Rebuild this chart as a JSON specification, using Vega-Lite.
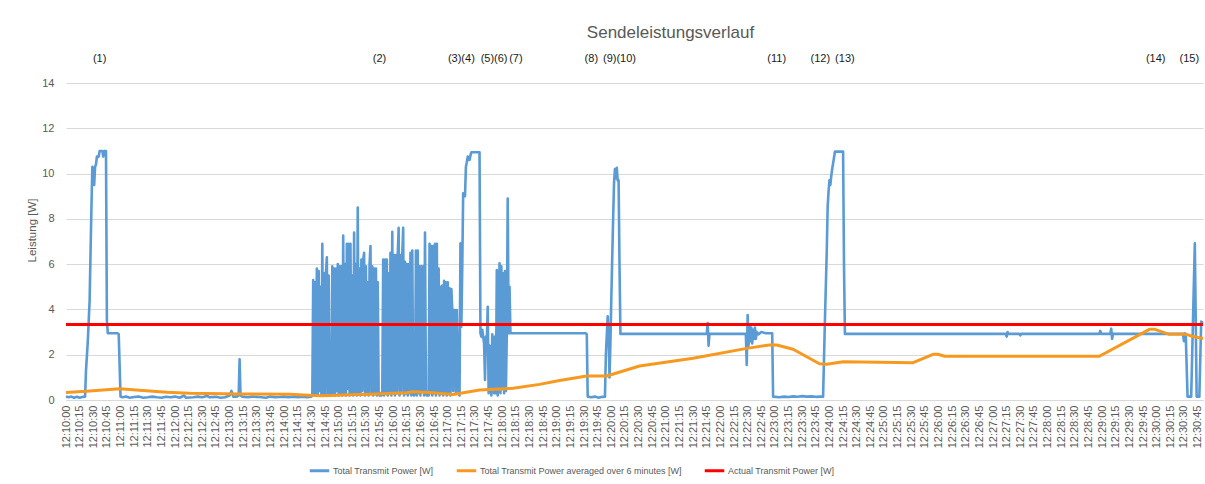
{
  "$schema": "https://vega.github.io/schema/vega-lite/v6.json",
  "width": 1137,
  "height": 317,
  "autosize": {"type": "none"},
  "padding": {"left": 66, "top": 83, "right": 2, "bottom": 84},
  "background": "white",
  "title": {"text": "Sendeleistungsverlauf", "font": "Liberation Sans", "fontSize": 17, "fontWeight": "normal", "color": "#595959", "anchor": "middle", "frame": "group", "dx": 36, "offset": 11},
  "datasets": {
    "blue": [
      {"s":0,"v":0.15},{"s":3,"v":0.12},{"s":6,"v":0.15},{"s":9,"v":0.1},{"s":12,"v":0.14},{"s":15,"v":0.1},{"s":18,"v":0.13},{"s":21,"v":0.15},{"s":22,"v":1.3},{"s":24,"v":2.6},{"s":26,"v":4.4},{"s":27,"v":6.5},{"s":28,"v":8.5},{"s":29,"v":10.3},{"s":30,"v":10.0},{"s":31,"v":9.5},{"s":32,"v":10.3},{"s":33,"v":10.4},{"s":34,"v":10.75},{"s":36,"v":10.75},{"s":37,"v":11},{"s":40,"v":11},{"s":41,"v":10.75},{"s":42,"v":11},{"s":44,"v":11},{"s":45,"v":3.5},{"s":46,"v":2.95},{"s":57,"v":2.95},{"s":58,"v":2.9},{"s":60,"v":0.15},
      {"s":62,"v":0.12},{"s":66,"v":0.15},{"s":70,"v":0.1},{"s":75,"v":0.13},{"s":80,"v":0.15},{"s":85,"v":0.1},{"s":90,"v":0.12},{"s":95,"v":0.15},{"s":100,"v":0.12},{"s":105,"v":0.1},{"s":110,"v":0.14},{"s":115,"v":0.12},{"s":120,"v":0.15},{"s":125,"v":0.1},{"s":130,"v":0.2},{"s":132,"v":0.1},{"s":140,"v":0.12},{"s":145,"v":0.15},{"s":150,"v":0.12},{"s":155,"v":0.18},{"s":158,"v":0.12},{"s":165,"v":0.14},{"s":170,"v":0.1},{"s":175,"v":0.12},{"s":180,"v":0.2},{"s":182,"v":0.4},{"s":184,"v":0.15},{"s":188,"v":0.15},{"s":190,"v":0.2},{"s":191,"v":1.8},{"s":192,"v":0.2},{"s":194,"v":0.15},{"s":200,"v":0.12},{"s":205,"v":0.15},{"s":210,"v":0.14},{"s":215,"v":0.12},{"s":220,"v":0.1},{"s":225,"v":0.15},{"s":230,"v":0.12},{"s":235,"v":0.13},{"s":240,"v":0.15},{"s":245,"v":0.12},{"s":250,"v":0.14},{"s":255,"v":0.12},{"s":260,"v":0.15},{"s":265,"v":0.12},{"s":270,"v":0.15},{"s":271,"v":0.2},
      {"s":272,"v":5.3},{"s":273,"v":0.2},{"s":274,"v":5.2},{"s":275,"v":0.3},{"s":276,"v":5.8},{"s":277,"v":0.2},{"s":278,"v":5.7},{"s":279,"v":0.4},{"s":280,"v":5.0},{"s":281,"v":0.2},{"s":282,"v":6.9},{"s":283,"v":0.3},{"s":284,"v":5.6},{"s":285,"v":0.2},{"s":286,"v":5.6},{"s":287,"v":6.3},{"s":288,"v":0.2},{"s":289,"v":5.5},{"s":290,"v":0.2},{"s":291,"v":0.3},{"s":292,"v":0.2},{"s":293,"v":5.9},{"s":294,"v":0.3},{"s":295,"v":5.8},{"s":296,"v":0.2},{"s":297,"v":5.8},{"s":298,"v":0.4},{"s":299,"v":6.0},{"s":300,"v":0.2},{"s":301,"v":5.9},{"s":302,"v":0.3},{"s":303,"v":5.9},{"s":304,"v":0.2},{"s":305,"v":7.26},{"s":306,"v":0.3},{"s":307,"v":6.0},{"s":308,"v":0.2},{"s":309,"v":6.9},{"s":310,"v":0.5},{"s":311,"v":6.9},{"s":312,"v":0.2},{"s":313,"v":6.9},{"s":314,"v":0.3},{"s":315,"v":5.5},{"s":316,"v":0.2},{"s":317,"v":7.4},{"s":318,"v":0.3},{"s":319,"v":6.0},{"s":320,"v":0.2},{"s":321,"v":8.5},{"s":322,"v":0.3},{"s":323,"v":5.8},{"s":324,"v":0.2},{"s":325,"v":6.2},{"s":326,"v":0.4},{"s":327,"v":6.2},{"s":328,"v":6.5},{"s":329,"v":0.2},{"s":330,"v":5.9},{"s":331,"v":0.3},{"s":332,"v":5.2},{"s":333,"v":0.2},{"s":334,"v":6.0},{"s":335,"v":6.8},{"s":336,"v":0.3},{"s":337,"v":5.9},{"s":338,"v":0.2},{"s":339,"v":5.8},{"s":340,"v":0.3},{"s":341,"v":5.8},{"s":342,"v":0.2},{"s":343,"v":5.2},{"s":344,"v":0.3},{"s":345,"v":0.2},{"s":346,"v":0.3},{"s":347,"v":0.2},{"s":348,"v":0.3},{"s":349,"v":6.2},{"s":350,"v":0.2},{"s":351,"v":6.2},{"s":352,"v":0.3},{"s":353,"v":6.2},{"s":354,"v":0.2},{"s":355,"v":5.6},{"s":356,"v":0.4},{"s":357,"v":6.5},{"s":358,"v":0.2},{"s":359,"v":7.43},{"s":360,"v":0.3},{"s":361,"v":6.4},{"s":362,"v":0.2},{"s":363,"v":6.4},{"s":364,"v":0.3},{"s":365,"v":6.4},{"s":366,"v":7.6},{"s":367,"v":0.2},{"s":368,"v":6.4},{"s":369,"v":0.3},{"s":370,"v":6.4},{"s":371,"v":7.6},{"s":372,"v":0.2},{"s":373,"v":6.1},{"s":374,"v":0.3},{"s":375,"v":6.0},{"s":376,"v":0.2},{"s":377,"v":6.0},{"s":378,"v":0.3},{"s":379,"v":6.5},{"s":380,"v":0.2},{"s":381,"v":6.6},{"s":382,"v":0.3},{"s":383,"v":0.2},{"s":384,"v":0.3},{"s":385,"v":6.6},{"s":386,"v":0.2},{"s":387,"v":6.6},{"s":388,"v":0.3},{"s":389,"v":5.9},{"s":390,"v":0.2},{"s":391,"v":5.9},{"s":392,"v":0.4},{"s":393,"v":5.9},{"s":394,"v":0.2},{"s":395,"v":7.4},{"s":396,"v":0.3},{"s":397,"v":0.2},{"s":398,"v":0.3},{"s":399,"v":0.2},{"s":400,"v":6.9},{"s":401,"v":0.3},{"s":402,"v":6.8},{"s":403,"v":0.2},{"s":404,"v":6.8},{"s":405,"v":0.3},{"s":406,"v":6.9},{"s":407,"v":0.2},{"s":408,"v":6.9},{"s":409,"v":0.4},{"s":410,"v":5.8},{"s":411,"v":0.2},{"s":412,"v":5.0},{"s":413,"v":0.3},{"s":414,"v":5.05},{"s":415,"v":0.2},{"s":416,"v":5.26},{"s":417,"v":0.3},{"s":418,"v":5.2},{"s":419,"v":0.2},{"s":420,"v":5.2},{"s":421,"v":0.3},{"s":422,"v":4.93},{"s":423,"v":0.2},{"s":424,"v":4.9},{"s":425,"v":3.97},{"s":426,"v":0.4},{"s":427,"v":3.97},{"s":428,"v":3.97},{"s":429,"v":0.3},{"s":430,"v":3.97},{"s":431,"v":2.0},{"s":432,"v":0.3},{"s":433,"v":0.2},{"s":434,"v":6.92},{"s":435,"v":3.24},{"s":436,"v":5.9},{"s":437,"v":9.13},{"s":438,"v":9.0},{"s":439,"v":9.0},{"s":440,"v":10.3},{"s":441,"v":10.5},{"s":442,"v":10.75},{"s":443,"v":10.6},{"s":444,"v":10.6},{"s":445,"v":10.8},{"s":446,"v":10.94},{"s":455,"v":10.94},
      {"s":456,"v":2.95},{"s":457,"v":2.8},{"s":458,"v":3.1},{"s":459,"v":2.8},{"s":460,"v":2.5},{"s":461,"v":0.88},{"s":462,"v":2.8},{"s":463,"v":2.6},{"s":464,"v":4.12},{"s":465,"v":0.3},{"s":466,"v":2.4},{"s":467,"v":1.9},{"s":468,"v":0.2},{"s":469,"v":2.9},{"s":470,"v":2.3},{"s":471,"v":0.3},{"s":472,"v":2.8},{"s":473,"v":0.3},{"s":474,"v":5.74},{"s":475,"v":0.2},{"s":476,"v":2.9},{"s":477,"v":6.04},{"s":478,"v":0.3},{"s":479,"v":5.9},{"s":480,"v":0.5},{"s":481,"v":5.6},{"s":482,"v":0.3},{"s":483,"v":5.7},{"s":484,"v":0.4},{"s":485,"v":2.9},{"s":486,"v":8.9},{"s":487,"v":2.95},{"s":488,"v":5.0},{"s":489,"v":2.95},{"s":490,"v":2.95},
      {"s":572,"v":2.95},{"s":573,"v":2.9},{"s":574,"v":0.15},{"s":578,"v":0.12},{"s":582,"v":0.15},{"s":586,"v":0.1},{"s":590,"v":0.14},{"s":593,"v":0.15},{"s":594,"v":2.0},{"s":596,"v":3.7},{"s":597,"v":3.0},{"s":598,"v":1.0},{"s":599,"v":2.5},{"s":600,"v":4.5},{"s":601,"v":6.3},{"s":602,"v":8.0},{"s":603,"v":9.6},{"s":604,"v":10.2},{"s":605,"v":9.8},{"s":606,"v":10.25},{"s":607,"v":9.7},{"s":608,"v":9.7},{"s":609,"v":6.0},{"s":610,"v":2.92},
      {"s":650,"v":2.92},{"s":705,"v":2.92},{"s":706,"v":3.4},{"s":707,"v":2.4},{"s":708,"v":2.92},{"s":748,"v":2.92},{"s":749,"v":1.55},{"s":750,"v":3.75},{"s":751,"v":2.4},{"s":752,"v":3.3},{"s":753,"v":2.6},{"s":754,"v":3.2},{"s":755,"v":2.5},{"s":756,"v":3.1},{"s":757,"v":2.7},{"s":758,"v":3.2},{"s":759,"v":2.7},{"s":760,"v":3.0},{"s":762,"v":2.9},{"s":765,"v":3.0},{"s":770,"v":2.95},{"s":777,"v":2.95},{"s":778,"v":0.15},{"s":785,"v":0.12},{"s":790,"v":0.15},{"s":795,"v":0.13},{"s":800,"v":0.16},{"s":805,"v":0.14},{"s":810,"v":0.17},{"s":815,"v":0.15},{"s":820,"v":0.16},{"s":825,"v":0.14},{"s":830,"v":0.15},{"s":833,"v":0.15},{"s":835,"v":3.5},{"s":837,"v":6.5},{"s":838,"v":8.5},{"s":839,"v":9.2},{"s":840,"v":9.7},{"s":841,"v":9.5},{"s":842,"v":9.9},{"s":843,"v":10.2},{"s":844,"v":10.45},{"s":845,"v":10.7},{"s":846,"v":10.97},{"s":855,"v":10.97},{"s":856,"v":6.0},{"s":857,"v":2.92},
      {"s":900,"v":2.92},{"s":950,"v":2.92},{"s":1000,"v":2.92},{"s":1034,"v":2.92},{"s":1035,"v":2.8},{"s":1036,"v":3.0},{"s":1037,"v":2.92},{"s":1049,"v":2.92},{"s":1050,"v":2.85},{"s":1051,"v":2.92},{"s":1137,"v":2.92},{"s":1138,"v":3.05},{"s":1139,"v":2.92},{"s":1149,"v":2.92},{"s":1150,"v":3.15},{"s":1151,"v":2.7},{"s":1152,"v":2.92},{"s":1229,"v":2.92},{"s":1230,"v":2.6},{"s":1231,"v":2.95},{"s":1232,"v":2.9},{"s":1234,"v":0.15},{"s":1238,"v":0.15},{"s":1242,"v":6.92},{"s":1244,"v":0.15},{"s":1247,"v":0.15},{"s":1249,"v":3.46},{"s":1251,"v":3.4}
    ],
    "orange": [
      {"s":0,"v":0.33},{"s":26,"v":0.4},{"s":59,"v":0.5},{"s":92,"v":0.4},{"s":111,"v":0.34},{"s":136,"v":0.3},{"s":191,"v":0.27},{"s":246,"v":0.25},{"s":272,"v":0.2},{"s":283,"v":0.19},{"s":320,"v":0.24},{"s":327,"v":0.24},{"s":375,"v":0.32},{"s":382,"v":0.36},{"s":400,"v":0.33},{"s":426,"v":0.24},{"s":455,"v":0.44},{"s":492,"v":0.52},{"s":521,"v":0.69},{"s":543,"v":0.86},{"s":573,"v":1.06},{"s":595,"v":1.06},{"s":631,"v":1.5},{"s":690,"v":1.84},{"s":749,"v":2.28},{"s":774,"v":2.43},{"s":782,"v":2.43},{"s":800,"v":2.24},{"s":829,"v":1.6},{"s":837,"v":1.58},{"s":855,"v":1.69},{"s":895,"v":1.67},{"s":932,"v":1.65},{"s":954,"v":2.02},{"s":959,"v":2.02},{"s":967,"v":1.93},{"s":1137,"v":1.93},{"s":1192,"v":3.12},{"s":1198,"v":3.12},{"s":1214,"v":2.9},{"s":1233,"v":2.9},{"s":1240,"v":2.8},{"s":1251,"v":2.72}
    ],
    "red": [
      {"s":0,"v":3.33},{"s":1251,"v":3.33}
    ],
    "notes": [
      {"s":37,"v":15.05,"label":"(1)"},{"s":345,"v":15.05,"label":"(2)"},{"s":435,"v":15.05,"label":"(3)(4)"},{"s":471,"v":15.05,"label":"(5)(6)"},{"s":495,"v":15.05,"label":"(7)"},{"s":578,"v":15.05,"label":"(8)"},{"s":609,"v":15.05,"label":"(9)(10)"},{"s":782,"v":15.05,"label":"(11)"},{"s":830,"v":15.05,"label":"(12)"},{"s":857,"v":15.05,"label":"(13)"},{"s":1199,"v":15.05,"label":"(14)"},{"s":1236,"v":15.05,"label":"(15)"}
    ]
  },
  "layer": [
    {
      "data": {"name": "blue"},
      "mark": {"type": "line", "strokeWidth": 2.6, "strokeJoin": "round"},
      "encoding": {
        "x": {"field": "s", "type": "quantitative",
          "scale": {"domain": [0, 1251], "nice": false, "zero": false},
          "axis": {"title": null, "tickCount": 200, "values": [0,15,30,45,60,75,90,105,120,135,150,165,180,195,210,225,240,255,270,285,300,315,330,345,360,375,390,405,420,435,450,465,480,495,510,525,540,555,570,585,600,615,630,645,660,675,690,705,720,735,750,765,780,795,810,825,840,855,870,885,900,915,930,945,960,975,990,1005,1020,1035,1050,1065,1080,1095,1110,1125,1140,1155,1170,1185,1200,1215,1230,1245],
            "labelExpr": "'12:' + (10 + floor(datum.value / 60)) + ':' + (datum.value % 60 < 10 ? '0' : '') + (datum.value % 60)",
            "labelAngle": -90, "labelOverlap": false, "labelSeparation": 0, "labelFont": "Liberation Sans", "labelFontSize": 11, "labelColor": "#595959", "labelPadding": 5,
            "ticks": false, "tickSize": 0, "grid": false, "domain": true, "domainColor": "#d9d9d9", "domainWidth": 1}},
        "y": {"field": "v", "type": "quantitative",
          "scale": {"domain": [0, 14], "nice": false},
          "axis": {"title": "Leistung [W]", "values": [0,2,4,6,8,10,12,14], "grid": true, "gridColor": "#d9d9d9", "gridWidth": 1, "domain": false, "ticks": false, "tickSize": 0,
            "labelFont": "Liberation Sans", "labelFontSize": 11, "labelColor": "#595959", "labelPadding": 12,
            "titleFont": "Liberation Sans", "titleFontSize": 11.5, "titleFontWeight": "normal", "titleColor": "#595959", "titlePadding": 4, "titleY": 147}},
        "color": {"datum": "Total Transmit Power [W]", "type": "nominal",
          "scale": {"domain": ["Total Transmit Power [W]", "Total Transmit Power averaged over 6 minutes [W]", "Actual Transmit Power [W]"], "range": ["#5b9bd5", "#f7991f", "#ff0000"]},
          "legend": {"title": null, "orient": "none", "legendX": 242, "legendY": 376, "direction": "horizontal", "symbolType": "stroke", "symbolSize": 380, "symbolStrokeWidth": 3,
            "labelFont": "Liberation Sans Narrow, Liberation Sans", "labelFontSize": 9, "labelColor": "#595959", "columnPadding": 16, "labelOffset": 2, "labelLimit": 400}}
      }
    },
    {
      "data": {"name": "orange"},
      "mark": {"type": "line", "strokeWidth": 3, "strokeJoin": "round"},
      "encoding": {
        "x": {"field": "s", "type": "quantitative"},
        "y": {"field": "v", "type": "quantitative"},
        "color": {"datum": "Total Transmit Power averaged over 6 minutes [W]", "type": "nominal"}
      }
    },
    {
      "data": {"name": "red"},
      "mark": {"type": "line", "strokeWidth": 3},
      "encoding": {
        "x": {"field": "s", "type": "quantitative"},
        "y": {"field": "v", "type": "quantitative"},
        "color": {"datum": "Actual Transmit Power [W]", "type": "nominal"}
      }
    },
    {
      "data": {"name": "notes"},
      "mark": {"type": "text", "font": "Liberation Sans", "fontSize": 11, "color": "#1a1a1a", "align": "center", "baseline": "middle"},
      "encoding": {
        "x": {"field": "s", "type": "quantitative"},
        "y": {"field": "v", "type": "quantitative"},
        "text": {"field": "label", "type": "nominal"}
      }
    }
  ],
  "config": {
    "view": {"stroke": null},
    "axisX": {"labelOverlap": false, "labelSeparation": 0},
    "axis": {"labelOverlap": false}
  }
}
